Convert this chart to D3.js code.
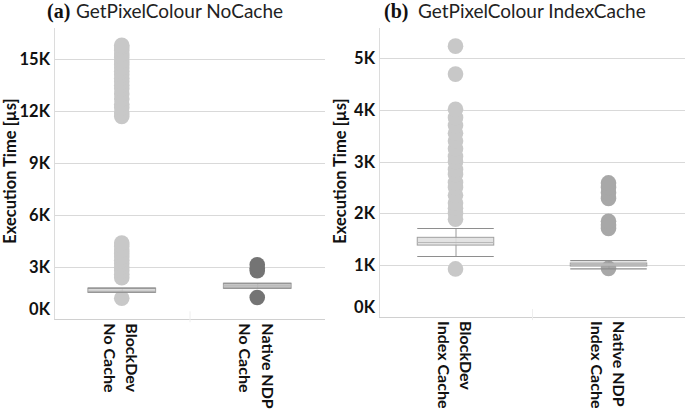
<!DOCTYPE html>
<html><head><meta charset="utf-8">
<script src="https://cdn.jsdelivr.net/npm/d3@7"></script>
<style>
html,body{margin:0;padding:0;background:#fff;}
svg{display:block;}
</style></head>
<body>
<svg id="chart" width="685" height="415"></svg>
<script>
// ---------- data (values in K µs) ----------
const panelLetters = ["(a)", "(b)"];
const panelTitles = ["GetPixelColour NoCache", "GetPixelColour IndexCache"];
const categoriesA = [["BlockDev", "No Cache"], ["Native NDP", "No Cache"]];
const categoriesB = [["BlockDev", "Index Cache"], ["Native NDP", "Index Cache"]];
const ticksA = [0, 3, 6, 9, 12, 15];
const ticksB = [0, 1, 2, 3, 4, 5];
const yMaxA = 16.8;
const yMaxB = 5.58;
const yTitle = "Execution Time [µs]";

// outlier points
const pointsA_BlockDev = [1.22, 2.4, 2.6, 2.8, 3.0, 3.2, 3.4, 3.6, 3.8, 4.0, 4.2, 4.4,
  11.7, 11.9, 12.2, 12.4, 12.7, 13.0, 13.3, 13.5, 13.7, 13.9, 14.1, 14.3, 14.5, 14.7, 14.9, 15.1, 15.3, 15.5, 15.7, 15.8];
const pointsA_Native = [1.26, 2.8, 2.95, 3.15];
const pointsB_BlockDev = [0.93, 1.89, 2.0, 2.1, 2.2, 2.35, 2.5, 2.6, 2.75, 2.85, 3.0, 3.1, 3.25, 3.4, 3.55, 3.7, 3.85, 4.01, 4.69, 5.23];
const pointsB_Native = [0.94, 1.71, 1.78, 1.85, 2.29, 2.4, 2.5, 2.59];

// box stats: [whiskerLow, q1, median, q3, whiskerHigh]
const boxA_BlockDev = [1.56, 1.56, 1.62, 1.8, 1.8];
const boxA_Native = [1.79, 1.79, 1.93, 2.08, 2.08];
const boxB_BlockDev = [1.17, 1.39, 1.44, 1.54, 1.71];
const boxB_Native = [0.93, 0.985, 1.015, 1.045, 1.09];

const pointColors = ["#c8c8c8", "#747474", "#c8c8c8", "#a8a8a8"];

// ---------- drawing ----------
const svg = d3.select("#chart");
const FONT = "Lato, 'Open Sans', sans-serif";

const panels = [
  {letter: panelLetters[0], title: panelTitles[0], cats: categoriesA, ticks: ticksA, yMax: yMaxA,
   points: [pointsA_BlockDev, pointsA_Native], boxes: [boxA_BlockDev, boxA_Native],
   colors: [pointColors[0], pointColors[1]], boxFill: ["#d2d2d2", "#bcbcbc"],
   x0: 54, x1: 325, yTop: 28, yBot: 319.3, titleX: 47, titleX2: 76, yTitleX: 10},
  {letter: panelLetters[1], title: panelTitles[1], cats: categoriesB, ticks: ticksB, yMax: yMaxB,
   points: [pointsB_BlockDev, pointsB_Native], boxes: [boxB_BlockDev, boxB_Native],
   colors: [pointColors[2], pointColors[3]], boxFill: ["#dedede", "#c8c8c8"],
   x0: 379, x1: 685, yTop: 28, yBot: 317.1, titleX: 384, titleX2: 418, yTitleX: 340}
];

panels.forEach(p => {
  const g = svg.append("g");
  const x = d3.scaleBand().domain(p.cats.map(c => c.join("|"))).range([p.x0, p.x1]).padding(0);
  const y = d3.scaleLinear().domain([0, p.yMax]).range([p.yBot, p.yTop]);

  // title
  g.append("text").attr("x", p.titleX).attr("y", 18).text(p.letter)
    .attr("font-family", "'Liberation Serif', 'DejaVu Serif', serif")
    .attr("font-weight", "bold").attr("font-size", 20).attr("fill", "#111");
  g.append("text").attr("x", p.titleX2).attr("y", 18).text(p.title)
    .attr("font-family", FONT).attr("font-size", 19).attr("fill", "#222");

  // gridlines
  g.append("g").selectAll("line").data(p.ticks.filter(d => d > 0)).join("line")
    .attr("x1", p.x0).attr("x2", p.x1)
    .attr("y1", d => Math.round(y(d)) + 0.5).attr("y2", d => Math.round(y(d)) + 0.5)
    .attr("stroke", "#d9d9d9").attr("stroke-width", 1);
  // bottom + left axis lines
  g.append("line").attr("x1", p.x0).attr("x2", p.x1)
    .attr("y1", Math.round(y(0)) + 0.5).attr("y2", Math.round(y(0)) + 0.5)
    .attr("stroke", "#d0d0d0");
  g.append("line").attr("x1", p.x0 + 0.5).attr("x2", p.x0 + 0.5)
    .attr("y1", p.yTop).attr("y2", y(0))
    .attr("stroke", "#dcdcdc");
  // category divider (faint)
  g.append("line").attr("x1", x(x.domain()[1]) + 0.5).attr("x2", x(x.domain()[1]) + 0.5)
    .attr("y1", y(0) - 8).attr("y2", y(0) + 3).attr("stroke", "#eeeeee");

  // y tick labels
  g.append("g").selectAll("text").data(p.ticks).join("text")
    .attr("x", p.x0 - 4)
    .attr("y", d => y(d) + (d === 0 ? -10 : 0))
    .attr("dy", "0.36em")
    .attr("text-anchor", "end")
    .attr("font-family", FONT).attr("font-weight", "bold").attr("font-size", 16.5).attr("fill", "#111")
    .text(d => d + "K");

  // y title
  g.append("text")
    .attr("transform", `translate(${p.yTitleX},171) rotate(-90)`)
    .attr("text-anchor", "middle").attr("dy", "0.35em")
    .attr("font-family", FONT).attr("font-weight", "bold").attr("font-size", 16.5).attr("fill", "#111")
    .text(yTitle);

  // x labels (rotated 90)
  p.cats.forEach(c => {
    const cx = x(c.join("|")) + x.bandwidth() / 2 - 2;
    const lab = g.append("text")
      .attr("transform", `translate(${cx},${p.yBot + 4}) rotate(90)`)
      .attr("font-family", FONT).attr("font-weight", "bold").attr("font-size", 16).attr("fill", "#111");
    lab.append("tspan").attr("x", 0).attr("y", 0).attr("dy", "-0.4em").text(c[0]);
    lab.append("tspan").attr("x", 0).attr("y", 0).attr("dy", "1.0em").text(c[1]);
  });

  // boxes & points
  p.cats.forEach((c, i) => {
    const cx = x(c.join("|")) + x.bandwidth() / 2;
    const bw = x.bandwidth() * 0.5;
    const [wl, q1, med, q3, wh] = p.boxes[i];
    // points
    g.append("g").selectAll("circle").data(p.points[i]).join("circle")
      .attr("cx", cx).attr("cy", d => y(d)).attr("r", 7.8)
      .attr("fill", p.colors[i]);
    // whisker stem
    g.append("line").attr("x1", cx + 0.5).attr("x2", cx + 0.5)
      .attr("y1", y(wl)).attr("y2", y(wh)).attr("stroke", "#9a9a9a").attr("stroke-width", 1);
    // box
    g.append("rect").attr("x", cx - bw / 2).attr("width", bw)
      .attr("y", y(q3)).attr("height", Math.max(1, y(q1) - y(q3)))
      .attr("fill", p.boxFill[i]).attr("fill-opacity", 0.85)
      .attr("stroke", "#a0a0a0").attr("stroke-width", 1);
    g.append("line").attr("x1", cx - bw / 2).attr("x2", cx + bw / 2)
      .attr("y1", y(med)).attr("y2", y(med)).attr("stroke", "#b8b8b8");
    // whisker caps
    [wl, wh].forEach(v => {
      g.append("line").attr("x1", cx - bw / 2).attr("x2", cx + bw / 2)
        .attr("y1", y(v)).attr("y2", y(v)).attr("stroke", "#8e8e8e").attr("stroke-width", 1.2);
    });
  });
});
</script>
</body></html>
